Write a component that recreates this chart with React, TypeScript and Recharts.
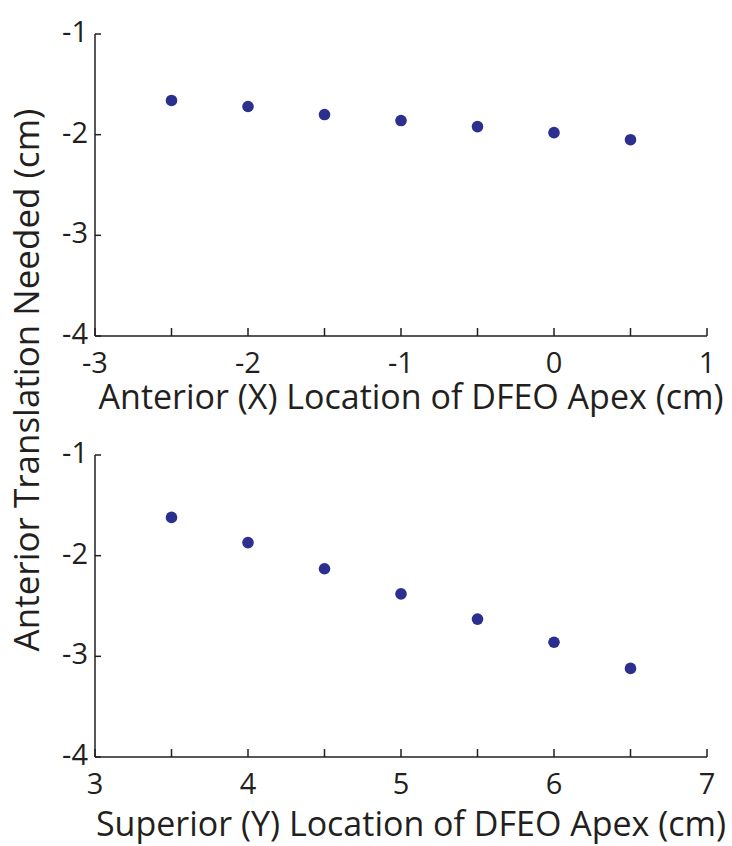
import { ScatterChart, Scatter, XAxis, YAxis, Label } from 'recharts';

const INK = '#231f20';
const DOT = '#2b2f8e';
const FONT = '"Open Sans", Arial, sans-serif';

// top panel: anterior (X) location
const anteriorX = [-2.5, -2, -1.5, -1, -0.5, 0, 0.5];
const anteriorNeeded = [-1.66, -1.72, -1.8, -1.86, -1.92, -1.98, -2.05];
const anteriorTicks = [-3, -2.5, -2, -1.5, -1, -0.5, 0, 0.5, 1];

// bottom panel: superior (Y) location
const superiorY = [3.5, 4, 4.5, 5, 5.5, 6, 6.5];
const superiorNeeded = [-1.62, -1.87, -2.13, -2.38, -2.63, -2.86, -3.12];
const superiorTicks = [3, 3.5, 4, 4.5, 5, 5.5, 6, 6.5, 7];

const yTicks = [-4, -3, -2, -1];

const topData = anteriorX.map((x, i) => ({ x, y: anteriorNeeded[i] }));
const bottomData = superiorY.map((x, i) => ({ x, y: superiorNeeded[i] }));

function XTick(props: any) {
  const { x, y, payload } = props;
  const v = payload.value as number;
  const showLabel = Number.isInteger(v);
  return (
    <g>
      <line x1={x} y1={y} x2={x} y2={y - 8} stroke={INK} strokeWidth={1.5} />
      {showLabel && (
        <text x={x} y={y + 37} textAnchor="middle" fontFamily={FONT} fontSize={29} fill={INK}>
          {v}
        </text>
      )}
    </g>
  );
}

function YTick(props: any) {
  const { x, y, payload } = props;
  return (
    <g>
      <line x1={x} y1={y} x2={x + 6} y2={y} stroke={INK} strokeWidth={1.5} />
      <text x={x - 7} y={y + 8} textAnchor="end" fontFamily={FONT} fontSize={29} fill={INK}>
        {payload.value}
      </text>
    </g>
  );
}

const dot = (p: any) => <circle cx={p.cx} cy={p.cy} r={5.8} fill={DOT} />;

function Panel({
  data,
  domain,
  ticks,
  title,
  height,
  top,
  labelDrop,
}: {
  data: { x: number; y: number }[];
  domain: [number, number];
  ticks: number[];
  title: string;
  height: number;
  top: number;
  labelDrop: number;
}) {
  return (
    <ScatterChart width={732} height={height} margin={{ top, right: 25, bottom: 0, left: 0 }}>
      <XAxis
        type="number"
        dataKey="x"
        domain={domain}
        ticks={ticks}
        interval={0}
        height={height - top - 302}
        tickSize={0}
        tickMargin={0}
        tick={XTick}
        axisLine={{ stroke: INK, strokeWidth: 1.5 }}
      >
        <Label
          content={(lp: any) => {
            const vb = lp.viewBox;
            return (
              <text
                x={vb.x + vb.width / 2 + 10}
                y={vb.y + labelDrop}
                textAnchor="middle"
                fontFamily={FONT}
                fontSize={34}
                fill={INK}
              >
                {title}
              </text>
            );
          }}
        />
      </XAxis>
      <YAxis
        type="number"
        dataKey="y"
        domain={[-4, -1]}
        ticks={yTicks}
        interval={0}
        width={95}
        tickSize={0}
        tickMargin={0}
        tick={YTick}
        axisLine={{ stroke: INK, strokeWidth: 1.5 }}
      />
      <Scatter data={data} fill={DOT} shape={dot} isAnimationActive={false} />
    </ScatterChart>
  );
}

export default function App() {
  return (
    <div style={{ position: 'absolute', left: 0, top: 0, width: 732, height: 846, background: '#fff' }}>
      <Panel
        data={topData}
        domain={[-3, 1]}
        ticks={anteriorTicks}
        title="Anterior (X) Location of DFEO Apex (cm)"
        height={420}
        top={34}
        labelDrop={73}
      />
      <Panel
        data={bottomData}
        domain={[3, 7]}
        ticks={superiorTicks}
        title="Superior (Y) Location of DFEO Apex (cm)"
        height={426}
        top={35}
        labelDrop={79}
      />
      <div
        style={{
          position: 'absolute',
          left: 25,
          top: 380,
          transform: 'translate(-50%, -50%) rotate(-90deg)',
          whiteSpace: 'nowrap',
          fontFamily: FONT,
          fontSize: 35,
          color: INK,
          lineHeight: 1,
        }}
      >
        Anterior Translation Needed (cm)
      </div>
    </div>
  );
}
